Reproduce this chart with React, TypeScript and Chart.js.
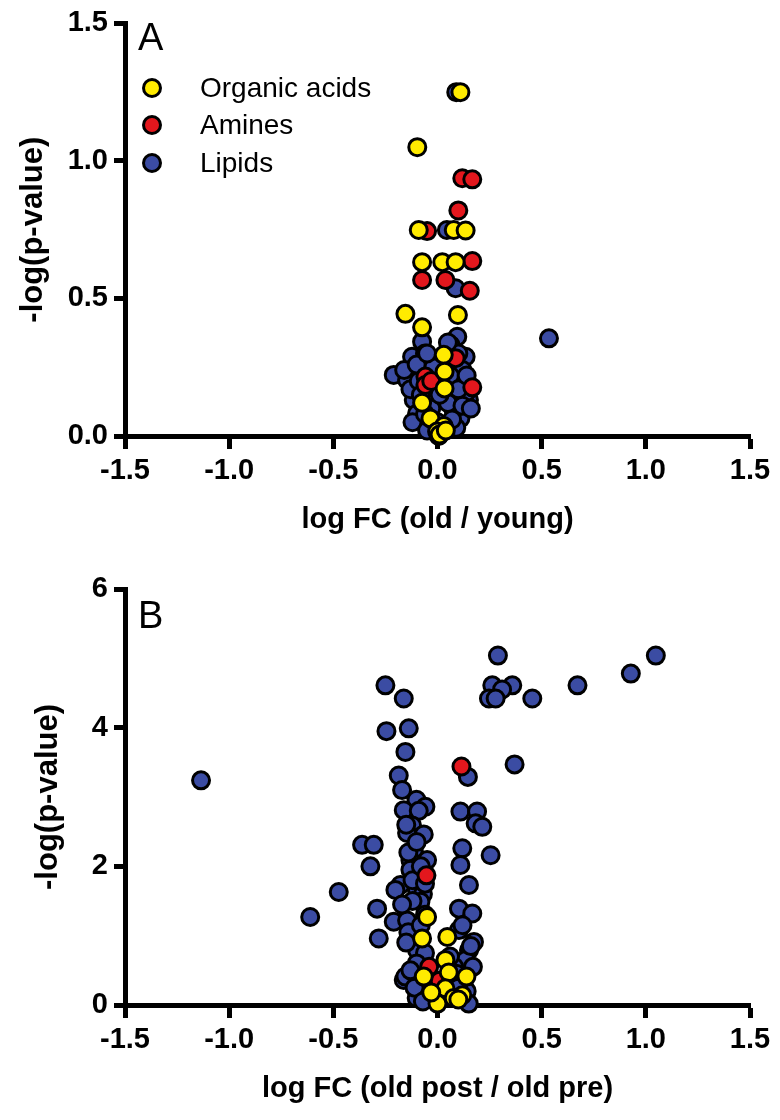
import React, { useEffect, useRef } from "react";
import { Chart, registerables } from "chart.js";

Chart.register(...registerables);

// ---------- data ----------
const seriesNames = ["Organic acids", "Amines", "Lipids"];
const seriesColors = ["#FFEB00", "#E3171D", "#3B4CA3"];

const xTickValues = [-1.5, -1.0, -0.5, 0.0, 0.5, 1.0, 1.5];

// Panel A : log FC (old / young)
const aOrganicAcids: [number, number][] = [
  [0.11, 1.25], [-0.097, 1.05], [-0.09, 0.749], [0.078, 0.749], [0.135, 0.747],
  [-0.074, 0.632], [0.023, 0.632], [0.087, 0.632], [-0.154, 0.444], [0.098, 0.44],
  [-0.074, 0.395], [0.03, 0.295], [0.034, 0.234], [0.034, 0.173], [-0.074, 0.121],
  [-0.034, 0.064], [0.03, 0.036], [-0.002, 0.016], [0.01, 0.005], [0.04, 0.02],
];
const aAmines: [number, number][] = [
  [0.119, 0.937], [0.167, 0.933], [0.1, 0.82], [-0.05, 0.745], [0.167, 0.636],
  [-0.074, 0.567], [0.038, 0.567], [0.155, 0.528], [0.087, 0.283], [-0.058, 0.216],
  [-0.058, 0.185], [0.167, 0.177], [0.006, 0.0], [-0.03, 0.2],
];
const aLipids: [number, number][] = [
  [0.09, 1.25], [0.045, 0.749], [0.087, 0.537], [0.535, 0.355], [-0.074, 0.343],
  [0.095, 0.361], [0.063, 0.331], [-0.122, 0.288], [0.135, 0.288], [-0.21, 0.222],
  [-0.146, 0.204], [-0.018, 0.191], [0.151, 0.131], [-0.114, 0.131], [-0.098, 0.082],
  [0.11, 0.064], [0.077, 0.095], [0.13, 0.2], [0.12, 0.24], [-0.08, 0.26],
  [-0.06, 0.3], [0.05, 0.12], [-0.03, 0.1], [0.01, 0.15], [0.14, 0.16],
  [-0.12, 0.05], [0.09, 0.03], [-0.05, 0.02], [0.06, 0.22], [-0.02, 0.25],
  [-0.16, 0.24], [-0.13, 0.17], [-0.09, 0.2], [-0.1, 0.26], [0.1, 0.17],
  [0.12, 0.11], [0.14, 0.22], [0.16, 0.1], [-0.08, 0.15], [0.0, 0.05],
  [0.07, 0.06], [-0.06, 0.08], [0.1, 0.3], [0.05, 0.34], [-0.05, 0.3],
];

// Panel B : log FC (old post / old pre)
const bOrganicAcids: [number, number][] = [
  [-0.05, 1.27], [-0.074, 0.96], [0.047, 0.98], [0.038, 0.65], [0.054, 0.47],
  [-0.066, 0.41], [0.139, 0.41], [0.038, 0.24], [0.119, 0.14], [0.0, 0.02],
  [0.078, 0.1], [-0.03, 0.18], [0.1, 0.08],
];
const bAmines: [number, number][] = [
  [0.115, 3.44], [-0.053, 1.87], [-0.04, 0.55], [0.01, 0.35],
];
const bLipids: [number, number][] = [
  [0.29, 5.04], [1.048, 5.04], [0.928, 4.78], [-0.25, 4.61], [-0.162, 4.42],
  [0.263, 4.61], [0.359, 4.61], [0.31, 4.55], [0.247, 4.42], [0.279, 4.42],
  [0.455, 4.42], [0.672, 4.61], [-0.245, 3.95], [-0.138, 3.99], [-0.154, 3.65],
  [0.146, 3.29], [0.37, 3.47], [-0.186, 3.31], [-0.17, 3.1], [-0.101, 2.96],
  [-0.058, 2.86], [-0.162, 2.81], [-0.09, 2.8], [0.11, 2.79], [0.19, 2.79],
  [0.183, 2.62], [0.215, 2.57], [-0.122, 2.59], [-0.146, 2.48], [-0.066, 2.46],
  [0.119, 2.26], [0.255, 2.16], [-0.114, 2.23], [-0.13, 2.09], [-0.05, 2.09],
  [0.11, 2.02], [-0.13, 1.95], [-0.178, 1.73], [0.151, 1.73], [-0.362, 2.31],
  [-0.306, 2.31], [-0.322, 2.0], [-1.135, 3.24], [-0.611, 1.27], [-0.474, 1.63],
  [-0.29, 1.39], [-0.282, 0.96], [-0.162, 0.36], [-0.202, 1.66], [-0.098, 1.66],
  [-0.07, 1.6], [-0.082, 1.49], [-0.21, 1.2], [-0.146, 1.22], [0.103, 1.39],
  [0.167, 1.32], [0.103, 1.08], [0.175, 0.91], [0.151, 0.79], [-0.098, 0.79],
  [-0.06, 0.75], [0.135, 0.65], [-0.154, 0.41], [-0.082, 0.17], [-0.04, 0.2],
  [0.08, 0.55], [0.12, 0.3], [-0.1, 0.1], [0.06, 0.7], [-0.1, 1.0],
  [-0.12, 1.8], [-0.08, 2.0], [-0.14, 2.2],
  [-0.12, 1.5], [-0.06, 1.3], [-0.14, 1.05], [-0.08, 1.15], [-0.1, 0.6],
  [-0.13, 0.5], [-0.05, 0.35], [-0.11, 0.25], [-0.07, 0.05], [0.14, 0.2],
  [0.17, 0.55], [0.16, 0.85], [0.12, 1.15], [0.09, 0.45], [0.1, 0.25],
  [0.15, 0.02], [-0.15, 2.6], [-0.1, 2.35], [-0.17, 1.45], [-0.06, 1.75],
  [-0.15, 0.9],
];

// ---------- styling ----------
const FONT = "'Liberation Sans', Arial, Helvetica, sans-serif";

type PanelProps = {
  top: number;
  height: number;
  plotTop: number;
  plotBottom: number;
  yMax: number;
  yStep: number;
  yDecimals: number;
  xTitle: string;
  letter: string;
  letterY: number;
  yTitleCenterX: number;
  showLegend: boolean;
  series: [number, number][][];
};

function Panel(p: PanelProps) {
  const ref = useRef<HTMLCanvasElement | null>(null);

  useEffect(() => {
    const canvas = ref.current;
    if (!canvas) return;
    const xAxisHeight = p.height - p.plotBottom;
    const xTitleSize = 29;
    const xTitleLH = xTitleSize * 1.2;
    const xTitleGap = 84; // axis line to title center
    const yTitleSize = 31;
    const yTitleLH = yTitleSize * 1.2;

    const overlay = {
      id: "overlay",
      afterDraw(chart: any) {
        const ctx = chart.ctx;
        ctx.save();
        ctx.fillStyle = "#000";
        ctx.textBaseline = "middle";
        ctx.textAlign = "left";
        ctx.font = `38px ${FONT}`;
        ctx.fillText(p.letter, 138, p.letterY);
        if (p.showLegend) {
          const ys = [88, 125, 163];
          ctx.font = `28px ${FONT}`;
          seriesNames.forEach((name, i) => {
            ctx.beginPath();
            ctx.arc(152, ys[i], 8.5, 0, Math.PI * 2);
            ctx.fillStyle = seriesColors[i];
            ctx.fill();
            ctx.lineWidth = 3;
            ctx.strokeStyle = "#000";
            ctx.stroke();
            ctx.fillStyle = "#000";
            ctx.fillText(name, 200, ys[i] + 1);
          });
        }
        ctx.restore();
      },
    };

    const chart = new Chart(canvas, {
      type: "scatter",
      data: {
        datasets: p.series.map((pts, i) => ({
          label: seriesNames[i],
          data: pts.map(([x, y]) => ({ x, y })),
          backgroundColor: seriesColors[i],
          borderColor: "#000",
          borderWidth: 3,
          pointRadius: 8.5,
          clip: false,
        })),
      },
      options: {
        animation: false,
        responsive: false,
        devicePixelRatio: 1,
        events: [],
        layout: { padding: { top: p.plotTop, right: 30, left: 0, bottom: 0 } },
        plugins: { legend: { display: false }, tooltip: { enabled: false }, title: { display: false } },
        scales: {
          x: {
            type: "linear",
            min: -1.5,
            max: 1.5,
            z: 1,
            afterBuildTicks: (s: any) => {
              s.ticks = xTickValues.map((v) => ({ value: v }));
            },
            afterFit: (s: any) => {
              s.height = xAxisHeight;
            },
            border: { display: true, color: "#000", width: 5 },
            grid: { display: true, drawOnChartArea: false, drawTicks: true, tickLength: 13, tickWidth: 5, tickColor: "#000", color: "#000" },
            ticks: {
              autoSkip: false,
              maxRotation: 0,
              padding: 5,
              color: "#000",
              font: { family: FONT, size: 29, weight: "bold" },
              callback: (v: any) => Number(v).toFixed(1),
            },
            title: {
              display: true,
              text: p.xTitle,
              color: "#000",
              font: { family: FONT, size: xTitleSize, weight: "bold" },
              padding: { top: 0, bottom: xAxisHeight - xTitleGap - xTitleLH / 2 },
            },
          },
          y: {
            type: "linear",
            min: 0,
            max: p.yMax,
            z: 1,
            afterBuildTicks: (s: any) => {
              const t = [];
              for (let v = 0; v <= p.yMax + 1e-9; v += p.yStep) t.push({ value: v });
              s.ticks = t;
            },
            afterFit: (s: any) => {
              s.width = 125;
            },
            border: { display: true, color: "#000", width: 5 },
            grid: { display: true, drawOnChartArea: false, drawTicks: true, tickLength: 11, tickWidth: 5, tickColor: "#000", color: "#000" },
            ticks: {
              autoSkip: false,
              padding: 6,
              color: "#000",
              font: { family: FONT, size: 29, weight: "bold" },
              callback: (v: any) => Number(v).toFixed(p.yDecimals),
            },
            title: {
              display: true,
              text: "-log(p-value)",
              color: "#000",
              font: { family: FONT, size: yTitleSize, weight: "bold" },
              padding: { top: p.yTitleCenterX - yTitleLH / 2, bottom: 0 },
            },
          },
        },
      },
      plugins: [overlay],
    } as any);
    return () => chart.destroy();
  }, []);

  return (
    <canvas
      ref={ref}
      width={780}
      height={p.height}
      style={{ position: "absolute", left: 0, top: p.top, width: 780, height: p.height }}
    />
  );
}

export default function App() {
  useEffect(() => {
    document.body.style.margin = "0";
    document.body.style.background = "#fff";
  }, []);
  return (
    <div style={{ position: "relative", width: 780, height: 1120, background: "#fff", overflow: "hidden" }}>
      <Panel
        top={0}
        height={560}
        plotTop={23}
        plotBottom={436}
        yMax={1.5}
        yStep={0.5}
        yDecimals={1}
        xTitle="log FC (old / young)"
        letter="A"
        letterY={40}
        yTitleCenterX={33}
        showLegend={true}
        series={[aOrganicAcids, aAmines, aLipids]}
      />
      <Panel
        top={560}
        height={560}
        plotTop={29}
        plotBottom={445}
        yMax={6}
        yStep={2}
        yDecimals={0}
        xTitle="log FC (old post / old pre)"
        letter="B"
        letterY={58}
        yTitleCenterX={48}
        showLegend={false}
        series={[bOrganicAcids, bAmines, bLipids]}
      />
    </div>
  );
}
